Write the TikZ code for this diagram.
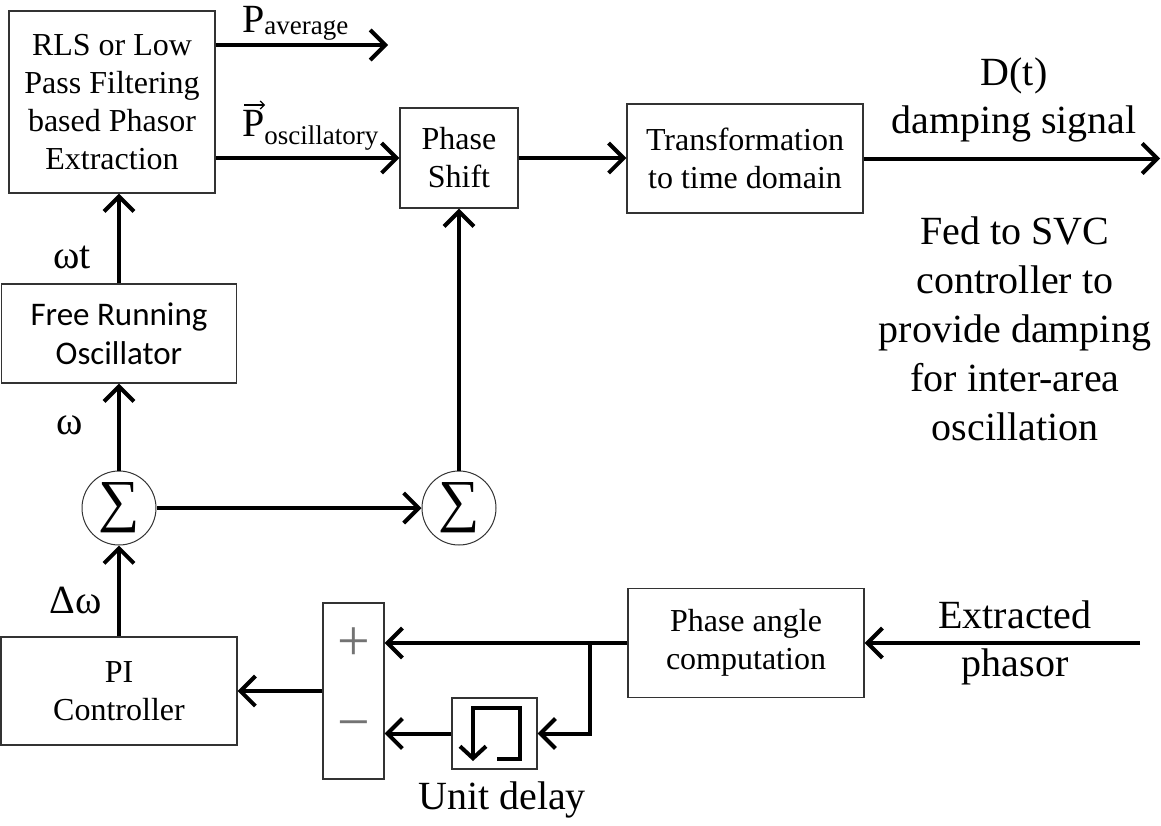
\documentclass[tikz,border=0pt]{standalone}
\usepackage{amsmath}
\usepackage{fontspec}
\setmainfont{Liberation Serif}
\newfontfamily\calibri{Carlito}
\usepackage{tikz}
\usetikzlibrary{positioning, arrows.meta, calc}

\begin{document}
\begin{tikzpicture}[
  x=1pt, y=-1pt,
  box/.style={rectangle, draw=black!80, line width=1.2pt, align=center, inner sep=0pt, font=\fontsize{32}{38}\selectfont},
  sumnode/.style={circle, draw=black!80, line width=1pt, minimum size=74pt, inner sep=0pt, font=\fontsize{58}{58}\selectfont},
  sig/.style={line width=4pt, -{Straight Barb[length=15pt,width=30pt]}},
  lbl/.style={font=\fontsize{40}{48}\selectfont, align=center, inner sep=0pt},
  sgn/.style={text=black!55, font=\fontsize{58}{58}\selectfont, inner sep=0pt},
]
  \useasboundingbox (0,0) rectangle (1161,825);

  % Phasor extraction and oscillator branch
  \node[box, minimum width=206pt, minimum height=182pt] (rls) at (112,102) {RLS or Low\\Pass Filtering\\based Phasor\\Extraction};
  \node[box, minimum width=235pt, minimum height=99pt, font=\calibri\fontsize{33}{39}\selectfont] (osc) at (119,333.5) {Free Running\\Oscillator};
  \node[sumnode] (sum1) at (119,508) {∑};
  \node[box, minimum width=236pt, minimum height=108pt] (pi) at (119,691) {PI\\Controller};

  % Forward path
  \node[box, minimum width=118pt, minimum height=100pt] (ps) at (459,158) {Phase\\Shift};
  \node[box, minimum width=236pt, minimum height=109pt] (tr) at (745,158.5) {Transformation\\to time domain};
  \node[sumnode] (sum2) at (459,508) {∑};

  % Phase angle loop
  \node[box, minimum width=236pt, minimum height=109pt] (pa) at (746,643) {Phase angle\\computation};
  \node[box, minimum width=61pt, minimum height=176pt] (sub) at (353.5,691) {};
  \node[sgn] (plus) at (353.5,644) {+};
  \node[sgn] (minus) at (353.5,731) {\textminus};
  \node[box, minimum width=85pt, minimum height=71pt] (dly) at (494.5,733.5) {};
  \draw[line width=4pt, -{Straight Barb[length=12pt,width=26pt]}] (497,759) -- (520,759) -- (520,708) -- (473,708) -- (473,761);

  % Free ends
  \coordinate (pavg) at (388,45);
  \coordinate (dout) at (1160,158.5);
  \coordinate (xin) at (1140,643);
  \coordinate (br) at (590,643);

  % Connectors
  \draw[sig] (rls.east |- pavg) -- (pavg);
  \draw[sig] (rls.east |- ps.west) -- (ps.west);
  \draw[sig] (ps) -- (ps.east -| tr.west);
  \draw[sig] (tr) -- (dout);
  \draw[sig] (osc.north) -- (osc.north |- rls.south);
  \draw[sig] (sum1) -- (osc);
  \draw[sig] (pi) -- (sum1);
  \draw[sig] (sum1) -- (sum2);
  \draw[sig] (sum2) -- (ps);
  \draw[sig] (xin) -- (pa);
  \draw[sig] (pa.west) -- (sub.east |- pa.west);
  \draw[sig] (br) |- (dly.east);
  \draw[sig] (dly.west) -- (sub.east |- dly.west);
  \draw[sig] (sub) -- (pi);

  % Labels
  \node[lbl, anchor=base west] (pavgl) at (242,32) {P\raisebox{-2pt}{\fontsize{27}{27}\selectfont average}};
  \node[lbl, anchor=base west] (poscl) at (242,136) {P\raisebox{-8pt}{\fontsize{27}{27}\selectfont oscillatory}};
  \draw[line width=1.2pt, -{Straight Barb[length=4pt,width=8pt]}] ($(poscl.base west)+(2,-31)$) -- ++(21,0);
  \node[lbl] (wtl) at (72,257) {ωt};
  \node[lbl] (wl) at (70,425) {ω};
  \node[lbl] (dwl) at (76,600) {Δω};
  \node[lbl] (dtl) at (1014,100) {D(t)\\damping signal};
  \node[lbl, font=\fontsize{40}{49}\selectfont] (svcl) at (1015,329) {Fed to SVC\\controller to\\provide damping\\for inter-area\\oscillation};
  \node[lbl, anchor=base] (xpl) at (1015,628) {Extracted};
  \node[lbl, anchor=base] (xpl2) at (1015,676) {phasor};
  \node[lbl] (dlyl) at (502,800) {Unit delay};
\end{tikzpicture}
\end{document}
